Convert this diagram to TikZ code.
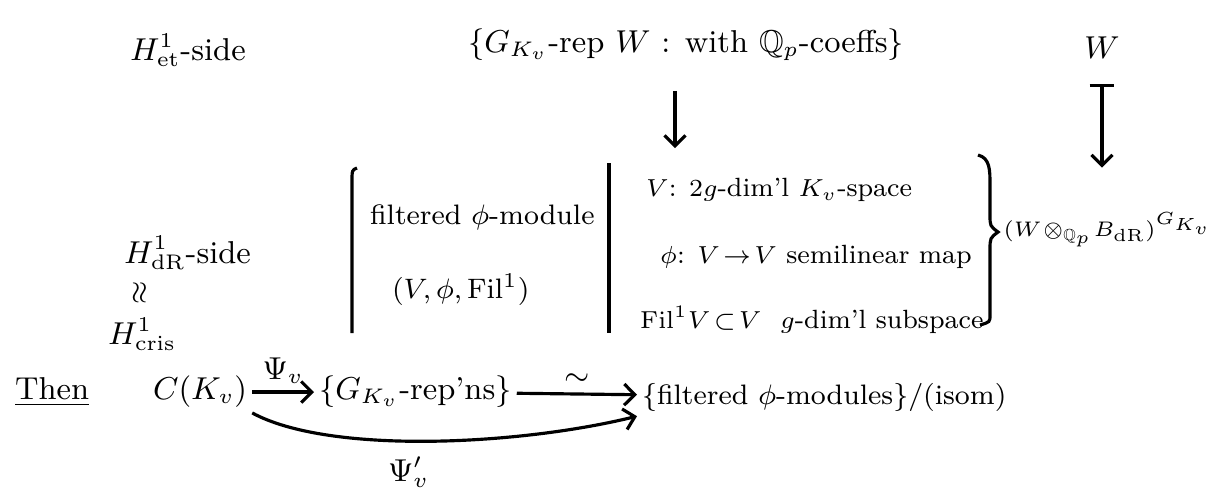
\documentclass[tikz,border=0pt]{standalone}
\usepackage{amsmath, amssymb}
\usepackage{graphicx}
\usepackage{tikz}
\usetikzlibrary{calc, arrows.meta, positioning}

\tikzset{
    txt/.style={inner sep=1pt, font=\small},
    ltxt/.style={txt, anchor=west},
    stxt/.style={ltxt, font=\footnotesize},
    ctxt/.style={ltxt, font=\fontsize{7.5}{9}\selectfont}
}

\begin{document}
\begin{tikzpicture}[>={Straight Barb[length=3pt,width=6pt]}, x=0.01cm, y=-0.01cm, line width=0.9pt]
    \useasboundingbox (0,0) rectangle (1225,496);

    % 1. Dong tren: phia etale
    \node[ltxt] (het) at (125,50) {$H^1_{\mathrm{et}}$-side};
    \node[ltxt] (galrep) at (463,45) {$\{G_{K_v}$-rep $W$ : with $\mathbb{Q}_p$-coeffs$\}$};
    \node[txt] (wtop) at (1102,48) {$W$};

    % 2. Phia de Rham
    \node[ltxt] (hdr) at (119,253) {$H^1_{\mathrm{dR}}$-side};
    \node[txt, inner sep=0pt, font=\footnotesize] (iso) at (140,293) {\rotatebox{90}{$\approx$}};
    \node[ltxt] (hcris) at (103,334) {$H^1_{\mathrm{cris}}$};

    \node[stxt] (filt) at (365,217) {filtered $\phi$-module};
    \node[stxt] (trip) at (387,290) {$(V,\phi,\mathrm{Fil}^1)$};
    \draw (357,168) .. controls (352,170) .. (352,182) -- (352,333);
    \draw (609,163) -- (609,333);

    \node[ctxt] (cond1) at (641,190) {$V$: $2g$-dim'l $K_v$-space};
    \node[ctxt] (cond2) at (655,257) {$\phi$: $V\!\to\!V$ semilinear map};
    \node[ctxt] (cond3) at (635,320) {$\mathrm{Fil}^1V\!\subset\!V$ \ $g$-dim'l subspace};
    \draw (978,155) .. controls (990,158) and (990,170) .. (990,185) -- (990,215)
        .. controls (990,226) .. (998,232) .. controls (990,238) .. (990,250)
        -- (990,315) .. controls (990,322) .. (980,325);

    \node[txt, anchor=east, font=\fontsize{6.5}{8}\selectfont] (wbdr) at (1218,230) {$(W\!\otimes_{\mathbb{Q}_p}\!B_{\mathrm{dR}})^{G_{K_v}}$};

    % 3. Mui ten doc
    \coordinate (midx) at (675,0);
    \draw[->, shorten <=0.25cm, shorten >=0.25cm] (galrep.south -| midx) -- (cond1.north -| midx);
    \draw[{Bar[width=7pt]}->, shorten <=0.2cm, shorten >=0.4cm] (wtop.south) -- (wbdr.north -| wtop.south);

    % 4. Dong duoi
    \node[ltxt] (then) at (10,392) {\underline{Then}};
    \node[ltxt] (ckv) at (148,392) {$C(K_v)$};
    \node[ltxt] (reps) at (314,392) {$\{G_{K_v}$-rep'ns$\}$};
    \node[stxt] (fmods) at (637,397) {$\{$filtered $\phi$-modules$\}/($isom$)$};

    \draw[->] (ckv) -- node[txt, above=1pt] {$\Psi_v$} (reps);
    \draw[->] (reps) -- node[txt, above=1pt] {$\sim$} (fmods);
    \draw[->] (ckv.south east) .. controls (330,455) and (520,445) .. (fmods.south west)
        node[txt, pos=0.45, below=3pt] {$\Psi_v'$};
\end{tikzpicture}
\end{document}
